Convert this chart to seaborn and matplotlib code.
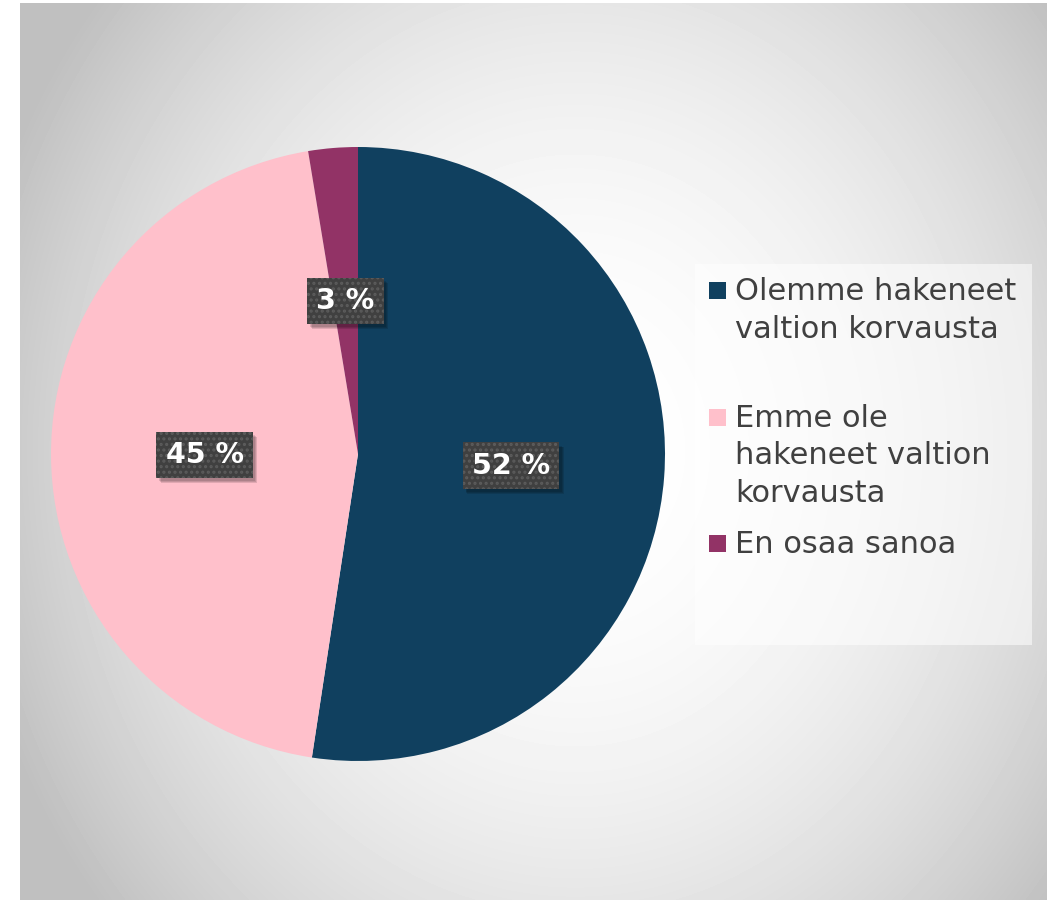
import numpy as np
import matplotlib.pyplot as plt
import matplotlib.patheffects as pe
from matplotlib.patches import Rectangle
import seaborn as sns

# data (slice sizes; labels show rounded percents)
labels = ["Olemme hakeneet\nvaltion korvausta",
          "Emme ole\nhakeneet valtion\nkorvausta",
          "En osaa sanoa"]
values = [52.4, 45.0, 2.6]
colors = ["#10405f", "#ffc0cb", "#923366"]

sns.set_theme(style="white")
plt.rcParams["font.family"] = ["DejaVu Sans"]
plt.rcParams["hatch.linewidth"] = 1.5


class SoftShadow(pe.AbstractPathEffect):
    """plain dark shadow under the label box (no hatch copied)"""

    def __init__(self, offset=(3, -4), alpha=0.12, steps=3):
        super().__init__(offset)
        self.alpha = alpha
        self.steps = steps

    def draw_path(self, renderer, gc, tpath, affine, rgbFace):
        for k in range(self.steps):
            gc0 = renderer.new_gc()
            gc0.copy_properties(gc)
            gc0.set_hatch(None)
            gc0.set_linewidth(0)
            gc0.set_alpha(self.alpha)
            ox, oy = self._offset
            off = affine.frozen().translate(*renderer.points_to_pixels(
                np.array([ox + k * 0.6 - 0.6, oy - k * 0.6 + 0.6])))
            renderer.draw_path(gc0, tpath, off, (0, 0, 0))
            gc0.restore()


W, H = 1056, 900
fig = plt.figure(figsize=(W / 100, H / 100), dpi=100)
fig.patch.set_facecolor("white")

# radial grey background of the chart area
bg = fig.add_axes([20 / W, 0, 1027 / W, 897 / H])
yy, xx = np.mgrid[0:897, 0:1027]
dx = (xx - 555) / 555
dy = (yy - 447) / 447
shade = np.clip(255 - 51 * dx ** 2 - 25 * dy ** 2, 192, 255) / 255
bg.imshow(shade, cmap="gray", vmin=0, vmax=1, aspect="auto", interpolation="bilinear")
bg.axis("off")

# pie
ax = fig.add_axes([51 / W, 139 / H, 614 / W, 614 / H])
wedges, texts, autotexts = ax.pie(
    values, colors=colors, startangle=90, counterclock=False, radius=1,
    autopct=lambda p: f"{p:.0f} %", pctdistance=0.5,
    wedgeprops=dict(linewidth=0))
ax.set_xlim(-1, 1)
ax.set_ylim(-1, 1)
ax.set_aspect("equal")
ax.axis("off")

for t in autotexts:
    t.set(color="white", fontsize=20.5, fontweight="bold")
    t.set_bbox(dict(boxstyle="square,pad=0.32", facecolor="#404040",
                    edgecolor="#5c5c5c", linewidth=0, hatch="..."))
    t.get_bbox_patch().set_path_effects([SoftShadow(offset=(2.5, -3)), pe.Normal()])

# legend, drawn by hand so the markers sit by the first line
fig.add_artist(Rectangle((695 / W, 1 - 645 / H), 337 / W, 381 / H,
                         transform=fig.transFigure, facecolor="white",
                         alpha=0.55, linewidth=0))
baselines = [300, 427, 553]
pitch = 37.5
for lab, col, base in zip(labels, colors, baselines):
    fig.add_artist(Rectangle((709 / W, 1 - (base - 1) / H), 17 / W, 17 / H,
                             transform=fig.transFigure, facecolor=col, linewidth=0))
    for i, line in enumerate(lab.split("\n")):
        fig.text(735 / W, 1 - (base + i * pitch) / H, line, fontsize=22,
                 color="#404040", va="baseline", ha="left")

fig.savefig("out.png", dpi=100)
